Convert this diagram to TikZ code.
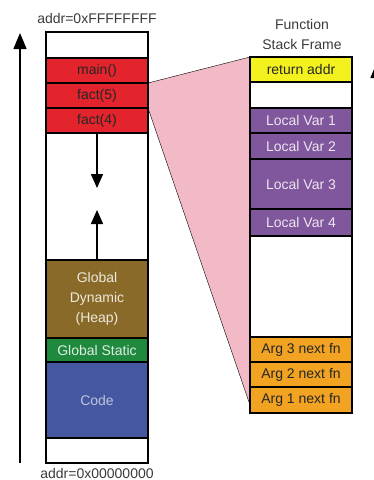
\documentclass[tikz,border=0pt]{standalone}
\usepackage{fontspec}
\setmainfont{Liberation Sans}
\usetikzlibrary{arrows.meta,backgrounds}

\definecolor{stackred}{HTML}{E3242C}
\definecolor{retyellow}{HTML}{F4F21E}
\definecolor{localpurple}{HTML}{80569C}
\definecolor{heapbrown}{HTML}{8A6A28}
\definecolor{staticgreen}{HTML}{1F8A3E}
\definecolor{codeblue}{HTML}{4557A0}
\definecolor{argorange}{HTML}{F1A321}
\definecolor{framepink}{HTML}{F2BAC6}
\definecolor{labelgray}{HTML}{3A3A3A}

\tikzset{
  cell/.style={draw, anchor=north west, inner sep=0pt, outer sep=0pt, minimum width=102pt, align=center},
  growth/.style={-{Triangle[length=14pt,width=12pt]}},
  addrarrow/.style={-{Triangle[length=16pt,width=13pt]}},
}

\begin{document}
\begin{tikzpicture}[x=1pt,y=-1pt,line width=1.5pt,
  font=\fontsize{14pt}{20pt}\selectfont]
\useasboundingbox (0,0) rectangle (374,480);

% memory map
\node[cell, minimum height=26pt] (top) at (46,32) {};
\node[cell, fill=stackred, text=black!85, minimum height=25pt] (main) at (top.south west) {main()};
\node[cell, fill=stackred, text=black!85, minimum height=25pt] (fact5) at (main.south west) {fact(5)};
\node[cell, fill=stackred, text=black!85, minimum height=25pt] (fact4) at (fact5.south west) {fact(4)};
\node[cell, minimum height=127pt] (free) at (fact4.south west) {};
\node[cell, fill=heapbrown, text=white!85!heapbrown, minimum height=78pt] (heap) at (free.south west) {Global\\Dynamic\\(Heap)};
\node[cell, fill=staticgreen, text=white!85!staticgreen, minimum height=24pt] (static) at (heap.south west) {Global Static};
\node[cell, fill=codeblue, text=white!65!codeblue, minimum height=76pt] (code) at (static.south west) {Code};
\node[cell, minimum height=25pt] (bottom) at (code.south west) {};

\node[text=labelgray] (hiaddr) at (97,18) {addr=0xFFFFFFFF};
\node[text=labelgray] (loaddr) at (97,473) {addr=0x00000000};

% stack frame
\node[cell, fill=retyellow, text=black!85, minimum height=25pt] (ret) at (250,57) {return addr};
\node[cell, minimum height=26pt] (gap) at (ret.south west) {};
\node[cell, fill=localpurple, text=white!85!localpurple, minimum height=25pt] (lv1) at (gap.south west) {Local Var 1};
\node[cell, fill=localpurple, text=white!85!localpurple, minimum height=26pt] (lv2) at (lv1.south west) {Local Var 2};
\node[cell, fill=localpurple, text=white!85!localpurple, minimum height=50pt] (lv3) at (lv2.south west) {Local Var 3};
\node[cell, fill=localpurple, text=white!85!localpurple, minimum height=27pt] (lv4) at (lv3.south west) {Local Var 4};
\node[cell, minimum height=101pt] (frfree) at (lv4.south west) {};
\node[cell, fill=argorange, text=black!85, minimum height=25pt] (arg3) at (frfree.south west) {Arg 3 next fn};
\node[cell, fill=argorange, text=black!85, minimum height=25pt] (arg2) at (arg3.south west) {Arg 2 next fn};
\node[cell, fill=argorange, text=black!85, minimum height=26pt] (arg1) at (arg2.south west) {Arg 1 next fn};

\node[text=labelgray, align=center] (title) at (302,34) {Function\\Stack Frame};

% zoom wedge
\coordinate (B) at (250,405);
\begin{scope}[on background layer]
\fill[framepink] (fact5.north east) -- (ret.north west) -- (B) -- (fact5.south east) -- cycle;
\draw (fact5.north east) -- (ret.north west);
\draw (fact5.south east) -- (B);
\end{scope}

% growth arrows
\coordinate (dn) at (97,188);
\coordinate (up) at (97,210);
\draw[growth] (free.north) -- (dn);
\draw[growth] (heap.north) -- (up);

\coordinate (lo) at (20,463);
\coordinate (hi) at (20,33);
\draw[addrarrow] (lo) -- (hi);

\begin{scope}
\clip (0,0) rectangle (374,480);
\coordinate (rlo) at (377,470);
\coordinate (rhi) at (377,62);
\draw[addrarrow] (rlo) -- (rhi);
\end{scope}

\end{tikzpicture}
\end{document}
